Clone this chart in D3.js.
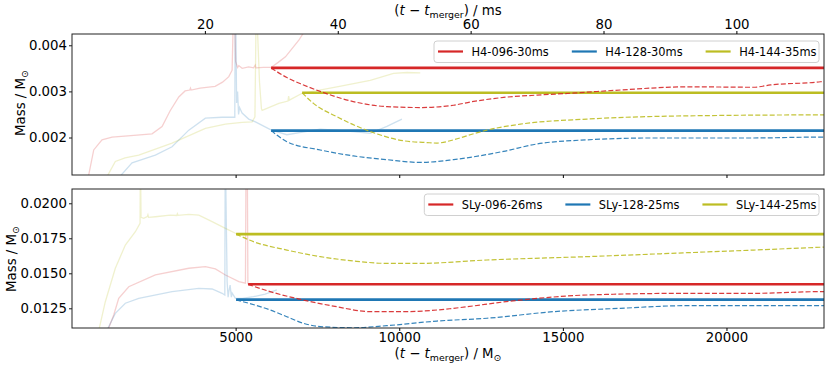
<!DOCTYPE html>
<html><head><meta charset="utf-8">
<script src="https://cdn.jsdelivr.net/npm/d3@7"></script>
<style>
body{margin:0;background:#fff;}
text{font-family:"DejaVu Sans",sans-serif;fill:#000;}
</style></head>
<body><svg id="chart" width="830" height="369"></svg>
<script>
// ---------- DATA (time in M_sun, mass in M_sun) ----------
const tMax = 22980;
const msPerMsun = 0.004925490947;

const h4Labels = ["H4-096-30ms", "H4-128-30ms", "H4-144-35ms"];
const slyLabels = ["SLy-096-26ms", "SLy-128-25ms", "SLy-144-25ms"];

const h4YTicks = [0.002, 0.003, 0.004];
const slyYTicks = [0.0125, 0.0150, 0.0175, 0.0200];
const xTicks = [5000, 10000, 15000, 20000];
const msTicks = [20, 40, 60, 80, 100];

const h4_096_faint = [[500,0.00115],[511,0.00119],[664,0.00173],[917,0.00195],[1223,0.00201],[1800,0.00204],[2446,0.00208],[2752,0.00224],[3000,0.00258],[3263,0.00288],[3456,0.00301],[3600,0.00303],[3620,0.00307],[3640,0.00303],[3914,0.00307],[4373,0.00311],[4600,0.00320],[4792,0.00332],[4893,0.00346],[4920,0.0043],[4980,0.0043],[5000,0.00365],[5060,0.00352],[5098,0.00356],[5200,0.00350],[5400,0.00353],[5550,0.00351],[5600,0.00357],[5620,0.00351],[5850,0.00352],[6085,0.00352],[6300,0.00363],[6523,0.00375],[6932,0.00411],[7100,0.0043]];
const h4_096_solid = [[6085,0.00351],[22980,0.00351]];
const h4_096_dash = [[6085,0.00351],[6566,0.00330],[7074,0.00314],[7584,0.00300],[8593,0.00278],[9623,0.00267],[10642,0.00265],[11660,0.00270],[12171,0.00277],[13190,0.00287],[14211,0.00292],[15229,0.00296],[16758,0.00303],[18798,0.00310],[20825,0.00309],[21345,0.00314],[22874,0.00321],[22980,0.00322]];

const h4_128_faint = [[1480,0.00115],[1508,0.00119],[1835,0.00145],[2547,0.00162],[3058,0.00180],[3569,0.00216],[4076,0.00242],[4587,0.00244],[4975,0.00244],[4985,0.0043],[5010,0.0043],[5030,0.00275],[5060,0.00300],[5090,0.00250],[5120,0.00265],[5198,0.00253],[5400,0.00240],[5605,0.00234],[6094,0.00216],[6566,0.00206],[7584,0.00218],[8602,0.00213],[9113,0.00209],[9623,0.00224],[10082,0.00240]];
const h4_128_solid = [[6085,0.00215],[22980,0.00215]];
const h4_128_dash = [[6085,0.00215],[6566,0.00191],[7584,0.00173],[8602,0.00160],[9623,0.00152],[10642,0.00146],[11660,0.00152],[13190,0.00170],[14211,0.00186],[15740,0.00195],[17777,0.00199],[20835,0.00199],[22874,0.00201],[22980,0.00201]];

const h4_144_faint = [[1080,0.00115],[1101,0.00119],[1324,0.00148],[1621,0.00156],[2040,0.00162],[3058,0.00188],[4076,0.00220],[4688,0.00229],[5200,0.00233],[5504,0.00234],[5590,0.00245],[5620,0.0043],[5670,0.0043],[5730,0.00320],[5790,0.00262],[5810,0.00259],[6321,0.00274],[6600,0.00279],[6620,0.00290],[6640,0.00281],[7033,0.00296],[8095,0.00310],[9113,0.00324],[9826,0.00339],[10235,0.00341],[10642,0.00340]];
const h4_144_solid = [[7033,0.00297],[22980,0.00297]];
const h4_144_dash = [[7033,0.00297],[7379,0.00274],[8095,0.00245],[9113,0.00213],[10122,0.00193],[10847,0.00189],[11153,0.00188],[11660,0.00195],[12171,0.00206],[12681,0.00216],[13700,0.00229],[15740,0.00240],[18798,0.00247],[22874,0.00249],[22980,0.00249]];

const sly_096_faint = [[1100,0.0109],[1122,0.01109],[1275,0.01202],[1428,0.01321],[1734,0.01404],[2547,0.01488],[3569,0.01536],[4076,0.01547],[4382,0.01531],[4688,0.01488],[5098,0.01440],[5300,0.01429],[5315,0.0213],[5360,0.0213],[5375,0.01422]];
const sly_096_solid = [[5382,0.01422],[22980,0.01422]];
const sly_096_dash = [[5382,0.01421],[6055,0.01369],[7073,0.01309],[8095,0.01261],[9113,0.01226],[10131,0.01226],[11153,0.01238],[11660,0.01250],[13700,0.01309],[15740,0.01345],[18798,0.01357],[20835,0.01357],[22874,0.01369],[22980,0.01369]];

const sly_128_faint = [[1060,0.0109],[1101,0.01109],[1324,0.01214],[1630,0.01286],[2040,0.01321],[3058,0.01369],[3875,0.01393],[4281,0.01388],[4587,0.01357],[4670,0.01345],[4680,0.0213],[4700,0.0213],[4740,0.01440],[4770,0.01330],[4792,0.01369],[4832,0.01416],[4870,0.01330],[4893,0.01359],[4994,0.01321],[5200,0.01320],[5544,0.01333],[5902,0.01352],[6260,0.01381]];
const sly_128_solid = [[5015,0.01312],[22980,0.01312]];
const sly_128_dash = [[5015,0.01310],[6055,0.01238],[6566,0.01190],[7073,0.01143],[7584,0.01119],[8602,0.01111],[9623,0.01126],[11153,0.01159],[12681,0.01179],[14718,0.01226],[16758,0.01250],[18798,0.01269],[22980,0.01269]];

const sly_144_faint = [[800,0.0109],[835,0.01109],[1018,0.01297],[1324,0.01536],[1630,0.01702],[1936,0.01797],[2080,0.01857],[2085,0.0213],[2100,0.0213],[2110,0.0190],[2193,0.01893],[2300,0.01905],[2320,0.01918],[2340,0.01900],[2547,0.01904],[3000,0.01915],[3200,0.01913],[3220,0.01925],[3240,0.01914],[3569,0.01921],[3875,0.01916],[4281,0.01869],[4688,0.01821],[4994,0.01786],[5060,0.01780]];
const sly_144_solid = [[5015,0.01780],[22980,0.01780]];
const sly_144_dash = [[5015,0.01780],[5544,0.01726],[6566,0.01666],[7584,0.01619],[8602,0.01588],[9623,0.01571],[10642,0.01571],[12681,0.01595],[15740,0.01619],[18798,0.01647],[20835,0.01666],[22874,0.01686],[22980,0.01687]];

const colors = ["#d62728", "#1f77b4", "#bcbd22"];

// ---------- LAYOUT ----------
const svg = d3.select("#chart");
const L = 72, R = 824;
const x = d3.scaleLinear().domain([0, tMax]).range([L, R]);
const xms = d3.scaleLinear().domain([0, tMax * msPerMsun]).range([L, R]);

function panel(opts) {
  const {top, bottom, yDomain, yTicks, yFmt, series, labels, id, legend} = opts;
  const y = d3.scaleLinear().domain(yDomain).range([bottom, top]);
  const g = svg.append("g");
  g.append("clipPath").attr("id", id).append("rect")
    .attr("x", L).attr("y", top).attr("width", R - L).attr("height", bottom - top);
  const plot = g.append("g").attr("clip-path", `url(#${id})`);
  const lin = d3.line().x(d => x(d[0])).y(d => y(d[1]));
  const smooth = d3.line().x(d => x(d[0])).y(d => y(d[1])).curve(d3.curveMonotoneX);
  series.forEach((s, i) => {
    plot.append("path").attr("d", lin(s.faint)).attr("fill", "none")
      .attr("stroke", colors[i]).attr("stroke-width", 1.3).attr("stroke-opacity", 0.22);
  });
  series.forEach((s, i) => {
    plot.append("path").attr("d", lin(s.solid)).attr("fill", "none")
      .attr("stroke", colors[i]).attr("stroke-width", 2.6);
  });
  series.forEach((s, i) => {
    plot.append("path").attr("d", smooth(s.dash)).attr("fill", "none")
      .attr("stroke", colors[i]).attr("stroke-width", 1.2).attr("stroke-opacity", 0.9)
      .attr("stroke-dasharray", "5,2.2");
  });
  // y axis
  const ya = g.append("g").attr("transform", `translate(${L},0)`)
    .call(d3.axisLeft(y).tickValues(yTicks).tickFormat(d3.format(yFmt)).tickSize(3).tickPadding(2));
  ya.select(".domain").remove();
  ya.selectAll("text").style("font-size", "13.3px").style("font-family", "DejaVu Sans");
  ya.selectAll("line").attr("stroke", "#000").attr("stroke-width", 0.9);
  // frame
  g.append("rect").attr("x", L).attr("y", top).attr("width", R - L).attr("height", bottom - top)
    .attr("fill", "none").attr("stroke", "#222").attr("stroke-width", 1);
  // legend
  const lg = g.append("g");
  const box = lg.append("rect").attr("rx", 3).attr("fill", "#fff").attr("fill-opacity", 0.8)
    .attr("stroke", "#d0d0d0").attr("stroke-width", 1);
  let cx = legend.x0;
  const cy = legend.cy;
  labels.forEach((lab, i) => {
    lg.append("line").attr("x1", cx).attr("x2", cx + 25).attr("y1", cy).attr("y2", cy)
      .attr("stroke", colors[i]).attr("stroke-width", 2.2);
    const t = lg.append("text").attr("x", cx + 33.5).attr("y", cy + 4.1)
      .style("font-size", "11.4px").text(lab);
    cx = cx + 33.5 + t.node().getComputedTextLength() + 23;
  });
  box.attr("x", legend.x0 - 4).attr("y", cy - 10.5).attr("width", R - 5 - (legend.x0 - 4)).attr("height", 21.5);
  return {g, y};
}

// Top panel (H4)
const topP = panel({
  top: 34, bottom: 175, yDomain: [0.001187, 0.004245], yTicks: h4YTicks, yFmt: ".3f", id: "clipTop",
  series: [
    {faint: h4_096_faint, solid: h4_096_solid, dash: h4_096_dash},
    {faint: h4_128_faint, solid: h4_128_solid, dash: h4_128_dash},
    {faint: h4_144_faint, solid: h4_144_solid, dash: h4_144_dash}],
  labels: h4Labels, legend: {x0: 438, cy: 51.5}
});
// Bottom panel (SLy)
const botP = panel({
  top: 189, bottom: 328, yDomain: [0.011093, 0.021021], yTicks: slyYTicks, yFmt: ".4f", id: "clipBot",
  series: [
    {faint: sly_096_faint, solid: sly_096_solid, dash: sly_096_dash},
    {faint: sly_128_faint, solid: sly_128_solid, dash: sly_128_dash},
    {faint: sly_144_faint, solid: sly_144_solid, dash: sly_144_dash}],
  labels: slyLabels, legend: {x0: 428.3, cy: 204.5}
});

// top panel: top ms axis + unlabeled bottom ticks
const topAx = svg.append("g").attr("transform", "translate(0,34)")
  .call(d3.axisTop(xms).tickValues(msTicks).tickFormat(d3.format("d")).tickSize(3).tickPadding(2));
topAx.select(".domain").remove();
topAx.selectAll("text").style("font-size", "13.3px").style("font-family", "DejaVu Sans");
const topBot = svg.append("g").attr("transform", "translate(0,175)")
  .call(d3.axisBottom(x).tickValues(xTicks).tickFormat("").tickSize(3));
topBot.select(".domain").remove();
// bottom panel x axis
const botAx = svg.append("g").attr("transform", "translate(0,328)")
  .call(d3.axisBottom(x).tickValues(xTicks).tickFormat(d3.format("d")).tickSize(3).tickPadding(2));
botAx.select(".domain").remove();
botAx.selectAll("text").style("font-size", "13.3px").style("font-family", "DejaVu Sans");

// axis labels
function xLabel(yPos, unitParts) {
  const t = svg.append("text").attr("x", (L + R) / 2).attr("y", yPos).attr("text-anchor", "middle")
    .style("font-size", "13.3px");
  t.append("tspan").text("(");
  t.append("tspan").style("font-style", "italic").text("t");
  t.append("tspan").text(" \u2212 ");
  t.append("tspan").style("font-style", "italic").text("t");
  t.append("tspan").attr("dy", 3).style("font-size", "9.4px").text("merger");
  t.append("tspan").attr("dy", -3).text(")");
  unitParts(t);
}
xLabel(15, t => t.append("tspan").text(" / ms"));
xLabel(358, t => {
  t.append("tspan").text(" / M");
  t.append("tspan").attr("dy", 3).style("font-size", "9.4px").text("\u2299");
});
function yLabel(bx, cy) {
  const t = svg.append("text").attr("transform", `translate(${bx},${cy}) rotate(-90)`)
    .attr("text-anchor", "middle").style("font-size", "13.3px");
  t.append("tspan").text("Mass / M");
  t.append("tspan").attr("dy", 3).style("font-size", "9.4px").text("\u2299");
}
yLabel(24.5, 103);
yLabel(15.5, 259);
</script></body></html>
